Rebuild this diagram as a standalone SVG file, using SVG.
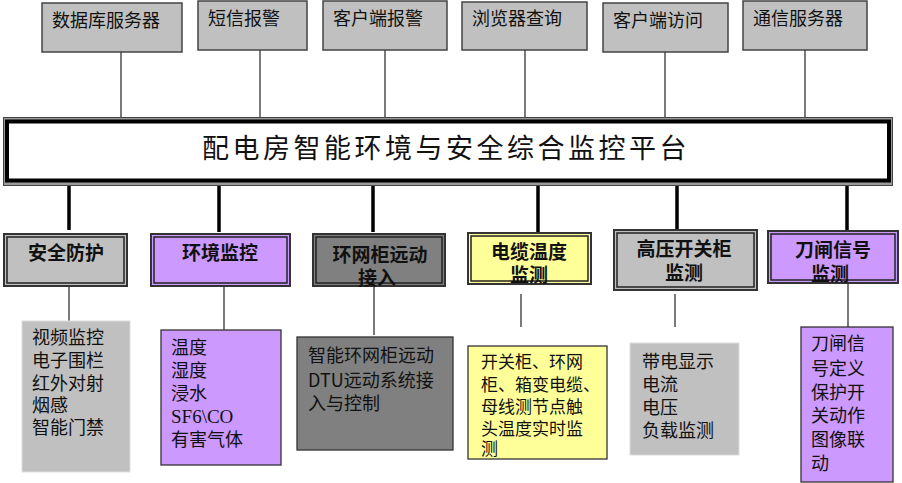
<svg xmlns="http://www.w3.org/2000/svg" width="902" height="483" viewBox="0 0 902 483">
<style>
.t{font-family:"Noto Sans CJK SC","Liberation Sans",sans-serif;fill:#111;}
.top{font-size:18px;}
.mid{font-size:19px;font-weight:bold;text-anchor:middle;}
.det{font-size:18px;}
.det17{font-size:17px;}
.topbox{fill:#c0c0c0;stroke:#444;stroke-width:1.5;}
.outer{stroke:#333;stroke-width:2;}
.inner{fill:none;stroke:#222;stroke-width:1.5;}
.thin{stroke:#333;stroke-width:1.3;fill:none;}
.thick{stroke:#000;stroke-width:3.5;fill:none;}
</style>
<rect width="902" height="483" fill="#fff"/>
<g id="connectors">
<line class="thin" x1="121" y1="52" x2="121" y2="117"/>
<line class="thin" x1="260" y1="50" x2="260" y2="117"/>
<line class="thin" x1="385" y1="50" x2="385" y2="117"/>
<line class="thin" x1="525" y1="50" x2="525" y2="117"/>
<line class="thin" x1="665" y1="52" x2="665" y2="117"/>
<line class="thin" x1="805" y1="50" x2="805" y2="117"/>
<line class="thick" x1="69" y1="185" x2="69" y2="230"/>
<line class="thick" x1="219" y1="185" x2="219" y2="232"/>
<line class="thick" x1="373" y1="185" x2="373" y2="232"/>
<line class="thick" x1="538" y1="185" x2="538" y2="232"/>
<line class="thick" x1="677" y1="185" x2="677" y2="232"/>
<line class="thick" x1="847" y1="185" x2="847" y2="232"/>
<line class="thin" x1="69" y1="286" x2="69" y2="321"/>
<line class="thin" x1="224" y1="286" x2="224" y2="330"/>
<line class="thin" x1="374" y1="286" x2="374" y2="335"/>
<line class="thin" x1="521" y1="294" x2="521" y2="327"/>
<line class="thin" x1="675" y1="294" x2="675" y2="327"/>
<line class="thin" x1="848" y1="283" x2="848" y2="327"/>
</g>
<g id="n-db"><rect class="topbox" x="42" y="3" width="140" height="49"/><text class="t top" x="52" y="27">数据库服务器</text></g>
<g id="n-sms"><rect class="topbox" x="198" y="1" width="109" height="49"/><text class="t top" x="208" y="25">短信报警</text></g>
<g id="n-clientalarm"><rect class="topbox" x="323" y="1" width="124" height="49"/><text class="t top" x="333" y="25">客户端报警</text></g>
<g id="n-browser"><rect class="topbox" x="462" y="2" width="125" height="48"/><text class="t top" x="472" y="25">浏览器查询</text></g>
<g id="n-clientaccess"><rect class="topbox" x="603" y="3" width="125" height="49"/><text class="t top" x="613" y="27">客户端访问</text></g>
<g id="n-comm"><rect class="topbox" x="743" y="1" width="124" height="49"/><text class="t top" x="753" y="25">通信服务器</text></g>
<g id="n-platform">
<rect x="3.5" y="117.5" width="889" height="68" fill="#9a9a9a" stroke="#444" stroke-width="1"/>
<rect x="7" y="121.5" width="882" height="59" fill="#fff" stroke="#000" stroke-width="4"/>
<text class="t" x="446" y="158" font-size="27" text-anchor="middle" letter-spacing="3.5">配电房智能环境与安全综合监控平台</text>
</g>
<g id="n-security">
<rect class="outer" x="4" y="234" width="123" height="52" fill="#c0c0c0"/>
<rect class="inner" x="7" y="237" width="117" height="46"/>
<text class="t mid" x="66" y="260">安全防护</text>
</g>
<g id="n-env">
<rect class="outer" x="151" y="234" width="139" height="52" fill="#cc99ff"/>
<rect class="inner" x="154" y="237" width="133" height="46"/>
<text class="t mid" x="220" y="260">环境监控</text>
</g>
<g id="n-ring">
<rect class="outer" x="313" y="234" width="132" height="52" fill="#808080"/>
<rect class="inner" x="316" y="237" width="126" height="46"/>
<text class="t mid" x="380" y="262">环网柜远动</text>
<text class="t mid" x="377" y="285">接入</text>
</g>
<g id="n-cable">
<rect class="outer" x="468" y="233" width="123" height="51" fill="#ffff99"/>
<rect class="inner" x="471" y="236" width="117" height="45"/>
<text class="t mid" x="529" y="259">电缆温度</text>
<text class="t mid" x="529" y="282">监测</text>
</g>
<g id="n-hv">
<rect class="outer" x="614" y="230" width="143" height="60" fill="#c0c0c0"/>
<rect class="inner" x="617" y="233" width="137" height="54"/>
<text class="t mid" x="684" y="256">高压开关柜</text>
<text class="t mid" x="684" y="280">监测</text>
</g>
<g id="n-switch">
<rect class="outer" x="768" y="231" width="130" height="52" fill="#cc99ff"/>
<rect class="inner" x="771" y="234" width="124" height="46"/>
<text class="t mid" x="833" y="257">刀闸信号</text>
<text class="t mid" x="830" y="281">监测</text>
</g>
<g id="d-security">
<rect x="22" y="321" width="108" height="151" fill="#c0c0c0" stroke="#ddd" stroke-width="1"/>
<text class="t det" x="32" y="344">视频监控</text>
<text class="t det" x="32" y="367">电子围栏</text>
<text class="t det" x="32" y="390">红外对射</text>
<text class="t det" x="32" y="412">烟感</text>
<text class="t det" x="32" y="434">智能门禁</text>
</g>
<g id="d-env">
<rect x="161" y="330" width="120" height="135" fill="#cc99ff" stroke="#333" stroke-width="1.3"/>
<text class="t det" x="171" y="354">温度</text>
<text class="t det" x="171" y="377">湿度</text>
<text class="t det" x="171" y="400">浸水</text>
<text x="171" y="423" font-family="Liberation Serif,serif" font-size="19" fill="#111">SF6\CO</text>
<text class="t det" x="171" y="446">有害气体</text>
</g>
<g id="d-ring">
<rect x="297" y="337" width="156" height="113" fill="#808080" stroke="#333" stroke-width="1.3"/>
<text class="t det" x="308" y="362">智能环网柜远动</text>
<text class="t det" x="308" y="387">DTU远动系统接</text>
<text class="t det" x="308" y="410">入与控制</text>
</g>
<g id="d-cable">
<rect x="468" y="346" width="139" height="113" fill="#ffff99" stroke="#333" stroke-width="1.3"/>
<text class="t det17" x="481" y="368">开关柜、环网</text>
<text class="t det17" x="481" y="391">柜、箱变电缆、</text>
<text class="t det17" x="481" y="413">母线测节点触</text>
<text class="t det17" x="481" y="435">头温度实时监</text>
<text class="t det17" x="481" y="455">测</text>
</g>
<g id="d-hv">
<rect x="630" y="343" width="109" height="112" fill="#c0c0c0" stroke="#ddd" stroke-width="1"/>
<text class="t det" x="642" y="368">带电显示</text>
<text class="t det" x="642" y="391">电流</text>
<text class="t det" x="642" y="414">电压</text>
<text class="t det" x="642" y="437">负载监测</text>
</g>
<g id="d-switch">
<rect x="801" y="327" width="92" height="155" fill="#cc99ff" stroke="#333" stroke-width="1.3"/>
<text class="t det" x="811" y="350">刀闸信</text>
<text class="t det" x="811" y="375">号定义</text>
<text class="t det" x="811" y="399">保护开</text>
<text class="t det" x="811" y="422">关动作</text>
<text class="t det" x="811" y="446">图像联</text>
<text class="t det" x="811" y="470">动</text>
</g>
</svg>
